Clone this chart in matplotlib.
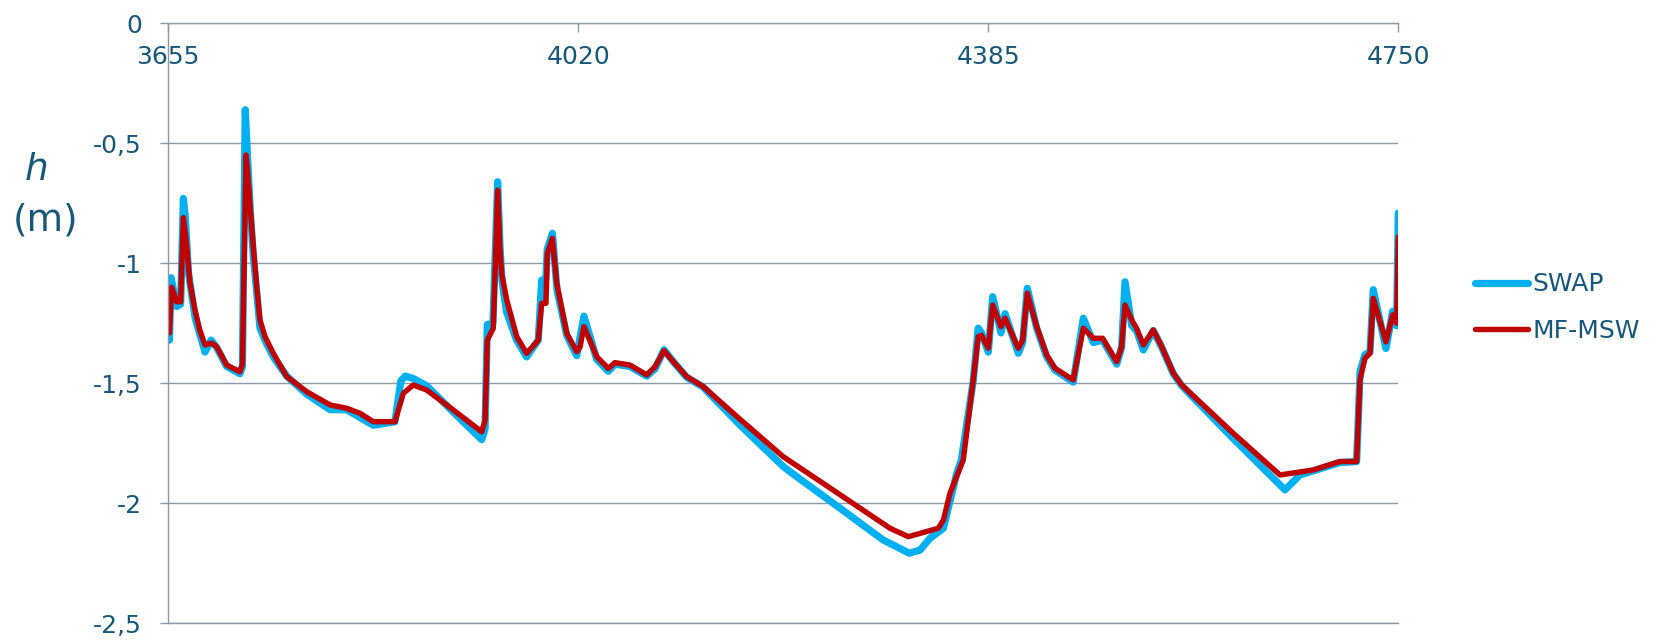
import matplotlib.pyplot as plt
from matplotlib.ticker import FixedLocator, FixedFormatter

# SWAP groundwater head (m)
swap_day = [3656, 3657.5, 3662.5, 3666, 3668.4, 3670, 3673, 3679, 3687.7, 3693, 3698, 3707,
            3718.8, 3721, 3723.5, 3726, 3728, 3730.7, 3733.7, 3736.6, 3741, 3748.5, 3760.4,
            3778.2, 3799, 3813.8, 3837.5, 3856.8, 3862, 3866, 3873, 3885, 3908.7, 3934, 3937,
            3939, 3944, 3948.2, 3950.3, 3952, 3956, 3965, 3974, 3984.4, 3987.4, 3991, 3992.4,
            3997, 4001, 4009.7, 4018.6, 4025, 4036.4, 4046.7, 4052.7, 4066, 4080.9, 4088.3,
            4096.3, 4104.6, 4116.5, 4131, 4164, 4202.5, 4214.4, 4247, 4291.5, 4314.7, 4324.2,
            4333, 4345, 4356.9, 4361, 4371.6, 4376, 4379, 4385, 4388.9, 4396.3, 4399.9, 4411.7,
            4415.6, 4419.7, 4428.1, 4437, 4444.4, 4460.6, 4469.6, 4478.5, 4486.8, 4499.3,
            4503.7, 4506.7, 4512.7, 4517, 4523, 4531.9, 4539.4, 4549.7, 4557.2, 4603, 4649.1,
            4662.5, 4674.3, 4698, 4712.9, 4716, 4720.3, 4724.8, 4727.7, 4739, 4745, 4748.5, 4750]
swap_h = [-1.32, -1.06, -1.18, -1.17, -0.73, -0.80, -1.04, -1.23, -1.37, -1.32, -1.35, -1.43,
          -1.46, -1.43, -0.36, -0.60, -0.78, -0.97, -1.12, -1.27, -1.32, -1.39, -1.47,
          -1.545, -1.61, -1.61, -1.675, -1.66, -1.49, -1.47, -1.48, -1.51, -1.62, -1.735, -1.69,
          -1.255, -1.25, -0.66, -0.93, -1.07, -1.20, -1.32, -1.39, -1.32, -1.07, -1.07, -0.94,
          -0.875, -1.11, -1.30, -1.385, -1.22, -1.40, -1.45, -1.42, -1.43, -1.47, -1.44,
          -1.36, -1.41, -1.475, -1.515, -1.674, -1.847, -1.889, -2.0, -2.153, -2.208, -2.195,
          -2.146, -2.104, -1.875, -1.82, -1.49, -1.27, -1.29, -1.37, -1.139, -1.29, -1.21, -1.375,
          -1.33, -1.104, -1.27, -1.39, -1.445, -1.495, -1.229, -1.33, -1.32, -1.42,
          -1.35, -1.077, -1.26, -1.28, -1.361, -1.28, -1.35, -1.46, -1.51, -1.73, -1.944,
          -1.882, -1.865, -1.83, -1.826, -1.45, -1.38, -1.37, -1.11, -1.355, -1.20, -1.26, -0.79]

# MF-MSW groundwater head (m)
msw_day = [3656, 3658, 3662.5, 3666, 3668.4, 3670.8, 3674.3, 3678.8, 3683, 3687.7, 3693.6, 3698,
           3707, 3718.8, 3721, 3724.2, 3726.2, 3728.3, 3730.7, 3733.7, 3736.6, 3741.1, 3748.5,
           3760.4, 3778.2, 3799, 3813.8, 3825.7, 3837.5, 3856.8, 3864.2, 3873.1, 3885, 3908.7,
           3934, 3937, 3939, 3944.3, 3948.2, 3950.3, 3951.8, 3956.3, 3965.2, 3974, 3984.4,
           3987.4, 3991.2, 3992.4, 3996.9, 4000.8, 4009.7, 4018.6, 4021.5, 4025, 4036.4, 4046.7,
           4052.7, 4066, 4080.9, 4088.3, 4096.3, 4104.6, 4116.5, 4131.3, 4164, 4202.5, 4238,
           4297.5, 4313.8, 4340.5, 4345, 4350.9, 4362.7, 4371.6, 4376, 4379, 4385, 4388.9,
           4396.3, 4399.9, 4411.7, 4415.6, 4419.7, 4428.1, 4437, 4444.4, 4460.6, 4469.6, 4478.5,
           4486.8, 4499.3, 4503.7, 4506.7, 4512.7, 4517, 4523, 4531.9, 4539.4, 4549.7, 4557.2,
           4603, 4644.7, 4674.3, 4698, 4712.9, 4715.9, 4720.3, 4724.8, 4727.7, 4739, 4745,
           4748.5, 4750]
msw_h = [-1.29, -1.10, -1.16, -1.16, -0.81, -0.90, -1.083, -1.195, -1.278, -1.34, -1.333, -1.347,
         -1.424, -1.452, -1.42, -0.549, -0.653, -0.792, -0.931, -1.097, -1.236, -1.306, -1.375,
         -1.472, -1.535, -1.59, -1.604, -1.625, -1.66, -1.66, -1.542, -1.507, -1.528, -1.611,
         -1.702, -1.653, -1.32, -1.271, -0.695, -0.944, -1.042, -1.153, -1.306, -1.375, -1.32,
         -1.167, -1.167, -0.958, -0.896, -1.083, -1.292, -1.368, -1.35, -1.264, -1.389, -1.438,
         -1.414, -1.424, -1.465, -1.431, -1.364, -1.41, -1.472, -1.514, -1.65, -1.806, -1.917,
         -2.104, -2.139, -2.104, -2.07, -1.958, -1.82, -1.486, -1.306, -1.30, -1.354, -1.174,
         -1.264, -1.229, -1.354, -1.32, -1.125, -1.264, -1.382, -1.4375, -1.486, -1.271, -1.3125,
         -1.3125, -1.41, -1.347, -1.174, -1.236, -1.271, -1.34, -1.278, -1.347, -1.458, -1.507,
         -1.708, -1.882, -1.861, -1.826, -1.826, -1.486, -1.396, -1.375, -1.146, -1.327, -1.215,
         -1.25, -0.89]

x_ticks = [3655, 4020, 4385, 4750]
y_ticks = [0, -0.5, -1, -1.5, -2, -2.5]
y_labels = ['0', '-0,5', '-1', '-1,5', '-2', '-2,5']

txt = '#17587A'
grid = '#8E99A5'

fig = plt.figure(figsize=(16.61, 6.40), dpi=100)
ax = fig.add_axes([168.3 / 1661, 1 - 623.3 / 640, (1398.3 - 168.3) / 1661, 600 / 640])

ax.plot(swap_day, swap_h, color='#00B0F0', lw=5.2, label='SWAP',
        solid_joinstyle='round', solid_capstyle='round')
ax.plot(msw_day, msw_h, color='#C00000', lw=3.9, label='MF-MSW',
        solid_joinstyle='round', solid_capstyle='round')

ax.set_xlim(3655, 4750)
ax.set_ylim(-2.5, 0)
ax.set_axisbelow(True)
ax.yaxis.grid(True, color=grid, lw=1.0)

ax.xaxis.set_major_locator(FixedLocator(x_ticks))
ax.yaxis.set_major_locator(FixedLocator(y_ticks))
ax.yaxis.set_major_formatter(FixedFormatter(y_labels))

ax.tick_params(axis='x', bottom=False, labelbottom=False, top=True, labeltop=True,
               direction='in', length=6.5, width=1, color=grid, pad=-33,
               labelsize=18, labelcolor=txt)
ax.tick_params(axis='y', direction='out', length=6, width=1, color=grid, pad=13,
               labelsize=18, labelcolor=txt)

ax.spines['right'].set_visible(False)
for s in ['left', 'top', 'bottom']:
    ax.spines[s].set_color(grid)
    ax.spines[s].set_linewidth(1.0)

fig.text(37 / 1661, 1 - 170 / 640, 'h', fontsize=27, style='italic', color=txt,
         ha='center', va='center')
fig.text(46 / 1661, 1 - 221 / 640, '(m)', fontsize=27, color=txt, ha='center', va='center')

leg = ax.legend(loc='center left', bbox_to_anchor=(1475 / 1661, 1 - 307.5 / 640),
                bbox_transform=fig.transFigure, frameon=False, fontsize=18,
                handlelength=2.1, handletextpad=0.2, labelspacing=0.9,
                borderpad=0, borderaxespad=0)
for t in leg.get_texts():
    t.set_color(txt)

fig.savefig('out.png', dpi=100)
